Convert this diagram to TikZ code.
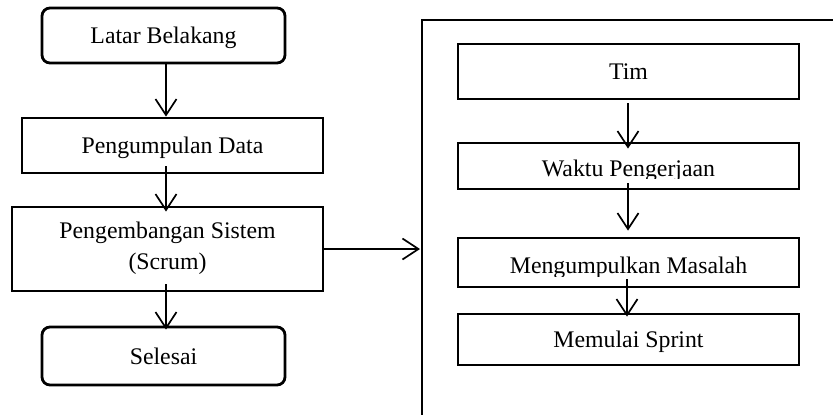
\documentclass[tikz,border=0pt]{standalone}
\usepackage{fontspec}
\setmainfont{Liberation Serif}
\usetikzlibrary{arrows.meta,calc}
\begin{document}
\begin{tikzpicture}[x=0.5pt,y=-0.5pt,
  font=\fontsize{11.9}{15.5}\selectfont,
  box/.style={draw, line width=1.4pt, inner sep=0pt, align=center},
  oneline/.style={text height=9.5pt, text depth=1.5pt},
  term/.style={box, oneline, rounded corners=4pt},
  flow/.style={line width=0.85pt,
    -{Straight Barb[length=8pt,width=10.5pt,line width=0.85pt]}}]
\useasboundingbox (0,0) rectangle (833,414);

% vertical lines of the arrows in each column
\coordinate (axL) at (166,0);
\coordinate (axR) at (628,0);

% main flow (left column)
\node[term, minimum width=121.5pt, minimum height=27.5pt] (lb) at (163.5,35.5) {Latar Belakang};
\node[box, oneline, minimum width=150.5pt, minimum height=27.5pt] (pd) at (172.5,145.5) {Pengumpulan Data};
\node[box, minimum width=155.5pt, minimum height=42pt, text depth=3.6pt] (ps) at (167.5,249) {Pengembangan Sistem\\(Scrum)};
\node[term, minimum width=121.5pt, minimum height=29pt] (sl) at (163.5,356) {Selesai};

% Scrum detail frame
\coordinate (frTL) at (422,20);
\draw[line width=1.4pt] (422,420) -- (frTL) -- (840,20);

\node[box, oneline, minimum width=170.5pt, minimum height=27.5pt] (tim) at (628.5,71.5) {Tim};
\node[box, minimum width=170.5pt, minimum height=23pt] (wp) at (628.5,166) {};
\node[box, minimum width=170.5pt, minimum height=24.5pt] (mm) at (628.5,262.5) {};
\node[box, oneline, minimum width=170.5pt, minimum height=25.5pt] (ms) at (628.5,339.5) {Memulai Sprint};

% labels whose descenders are cut off inside their boxes
\begin{scope}
  \clip (wp.north west) rectangle ([yshift=6pt]wp.south east);
  \node[anchor=base, inner sep=0pt] (wpt) at (628.5,176) {Waktu Pengerjaan};
\end{scope}
\begin{scope}
  \clip (mm.north west) rectangle ([yshift=6pt]mm.south east);
  \node[anchor=base, inner sep=0pt] (mmt) at (628.5,273) {Mengumpulkan Masalah};
\end{scope}

% connectors
\draw[flow] (lb.south -| axL) -- (pd.north -| axL);
\draw[flow, shorten <=-4pt, shorten >=-3pt] (pd.south -| axL) -- (ps.north -| axL);
\draw[flow, shorten <=-4pt, shorten >=-2pt] (ps.south -| axL) -- (sl.north -| axL);
\draw[flow, shorten >=1pt] (ps.east) -- (ps.east -| frTL);

\draw[flow, shorten <=1.5pt, shorten >=-3.5pt] (tim.south -| axR) -- (wp.north -| axR);
\draw[flow, shorten <=-3.5pt, shorten >=3pt] (wp.south -| axR) -- (mm.north -| axR);
\draw[flow, shorten <=-4.5pt, shorten >=-2pt] ([xshift=-0.5pt]mm.south -| axR) -- ([xshift=-0.5pt]ms.north -| axR);
\end{tikzpicture}
\end{document}
